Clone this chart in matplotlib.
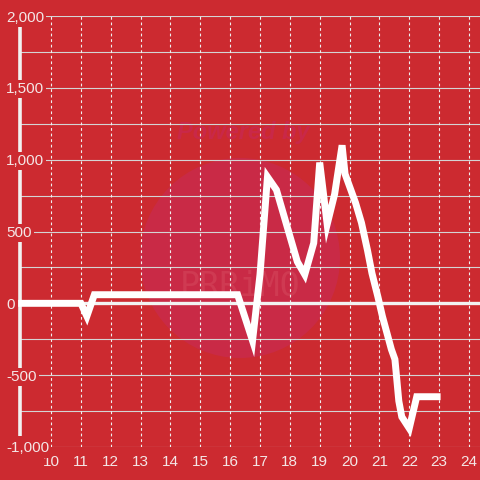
import matplotlib
matplotlib.use("Agg")
import matplotlib.pyplot as plt
from matplotlib.patches import Circle

# Data
x_vals = [8.9, 11.0, 11.2, 11.45, 16.25, 16.75, 17.0, 17.25, 17.55, 18.25, 18.5, 18.8,
          19.0, 19.25, 19.5, 19.75, 19.85, 20.2, 20.4, 20.6, 20.75, 20.95, 21.1, 21.4,
          21.52, 21.65, 21.75, 22.0, 22.25, 23.05]
y_vals = [0, 0, -90, 60, 60, -260, 200, 880, 790, 290, 200, 420,
          980, 550, 760, 1100, 900, 700, 560, 370, 210, 45, -90, -320,
          -390, -680, -790, -870, -650, -650]
x_ticks = list(range(10, 25))
y_ticks = [-1000, -500, 0, 500, 1000, 1500, 2000]
y_minor = [-750, -250, 250, 750, 1250, 1750]

BG = "#cc2a30"
TXT = "#f4e6e6"

plt.rcParams["font.family"] = ["Liberation Sans", "DejaVu Sans"]

fig = plt.figure(figsize=(4.8, 4.8), dpi=100, facecolor=BG)
ax = fig.add_axes([20/480, 1 - 447/480, 460/480, 431/480])
ax.set_facecolor(BG)
ax.set_xlim(8.96, 24.37)
ax.set_ylim(-1000, 2000)

# watermark
circ = Circle((240/480, 1 - 258/480), 100/480, transform=fig.transFigure,
              facecolor="#c92a46", edgecolor="none", zorder=0.5)
ax.add_patch(circ)
ax.text(243/480, 1 - 133/480, "Powered by", transform=fig.transFigure, ha="center",
        va="center", fontsize=17, fontweight="bold", style="italic", color="#c92848",
        zorder=0.6)
ax.text(240/480, 1 - 287/480, "PRRiMO", transform=fig.transFigure, ha="center",
        va="center", fontsize=24, color="#cf3a52", family="DejaVu Sans Mono", zorder=0.6)

for s in ax.spines.values():
    s.set_visible(False)

# grid lines
for yv in y_ticks + y_minor:
    if yv == 0:
        continue
    ax.axhline(yv, color="#d4d4d4", lw=0.8, zorder=1)
for xv in x_ticks:
    ax.axvline(xv, color="#f0f0f0", lw=0.8, ls=(0, (2.5, 2.5)), zorder=1)
ax.axhline(0, color="#f2f2f2", lw=2.4, zorder=1.2)
ax.plot([8.96, 8.96], [-920, 1950], color="#f2f2f2", lw=2.6, zorder=1.3,
        solid_capstyle="butt", clip_on=False)

# data line
ax.plot(x_vals, y_vals, color="white", lw=5, zorder=3, clip_on=False,
        solid_joinstyle="miter", solid_capstyle="butt")

ax.set_xticks(x_ticks)
ax.set_xticklabels([str(t) for t in x_ticks])
ax.set_yticks(y_ticks)
ax.set_yticklabels([f"{t:,}" for t in y_ticks])
ax.tick_params(axis="both", length=0, colors=TXT, labelsize=11)
ax.tick_params(axis="y", pad=10)
ax.tick_params(axis="x", pad=5.5)
for lab, t in zip(ax.get_yticklabels(), y_ticks):
    lab.set_horizontalalignment("left")
    lab.set_bbox(dict(facecolor=BG, edgecolor="none", pad=1.5))
ax.yaxis.set_zorder(5)
ax.xaxis.set_zorder(5)

fig.savefig("out.png", dpi=100, facecolor=BG)
